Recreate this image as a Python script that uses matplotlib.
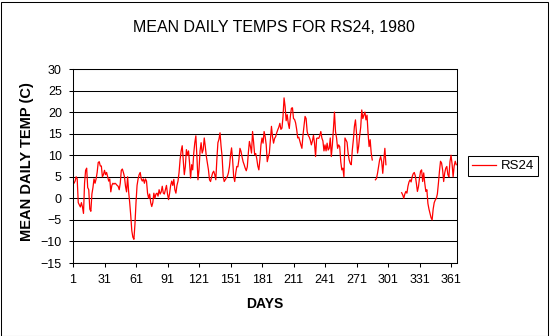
import numpy as np
import matplotlib
matplotlib.use("Agg")
import matplotlib.pyplot as plt
from matplotlib.patches import Rectangle

plt.rcParams['font.family'] = ['Liberation Sans', 'DejaVu Sans']

nan = np.nan

# mean daily temperature (C), day 1 .. 366 (1980 is a leap year)
temps_jan_feb = [4, 3.5, 4, 5, 4.5, -1, -1.5, -2, -1, -2, -3.5, 3.5, 6.5, 7, 2.5, 2, -2.5, -3,
                 1, 2.5, 4.5, 3.5, 4.5, 6, 8.3, 8.5, 7.5, 7.5, 5, 5.5, 6.5, 5.5, 6, 5, 4, 4.5,
                 1.5, 3, 3.5, 3.3, 3.5, 3.3, 3, 2.8, 2, 3.5, 6.5, 6.8, 6, 5, 2.8, 1.5, 5]
temps_feb_apr = [1.5, -1, -4, -7.5, -9, -9.5, -6, -1, 3, 4.5, 5.5, 6, 4.5, 4, 4.5, 3.5, 4.5, 4,
                 1.2, 0, 1, -1, -1.9, -1, 1.2, 0, 1, 1.2, 0.5, 2, 1, 1.5, 2.8, 1.2, 1, 2, 3, 1,
                 -0.3, 1.2, 3, 4, 3, 4.4, 2, 1.2, 3, 4, 6, 9, 11, 12.2]
temps_apr_jun = [9, 5.5, 7.4, 11.3, 10, 11, 8.2, 4.7, 7.8, 6.6, 10.5, 12.9, 14.5, 9.7, 4.3, 6.6,
                 11, 12.9, 10.5, 11.3, 14, 12, 9.7, 8.2, 6.6, 4.3, 3.9, 5, 5.9, 6.3, 5.5, 4.3,
                 9, 12.9, 13.7, 15.2, 12.1, 9.7, 5.1, 3.9, 4.3, 4.7, 5.1, 5.9, 7.4, 10, 11.7, 9,
                 5.1, 3.9, 5.9, 7.4]
temps_jun_jul = [7.3, 9, 11.6, 10.9, 9.6, 8.5, 7.8, 7, 6.4, 7.3, 10.6, 13.2, 12, 10.5, 15.5, 13,
                 10.1, 10.4, 9.2, 7.5, 6.6, 9, 12.4, 14, 12.8, 15.5, 14.3, 12.4, 8.5, 9.6, 10.5,
                 13.6, 16.7, 14.3, 12.8, 13.9, 14.3, 15.2, 15.9, 16.5, 17.4, 16, 16.3, 19, 23.3,
                 21.3, 18, 19.4, 17.4, 16.2, 19, 20.9]
temps_jul_sep = [21, 18.5, 18.3, 17.5, 16, 14, 14.2, 13.3, 12.4, 11.6, 14.6, 16.8, 19, 18.5,
                 15.5, 14.6, 14.2, 13.5, 12.4, 13.3, 14.6, 12.8, 9.7, 13.9, 14, 13.9, 14.5, 15.5,
                 14, 13.3, 11, 12.4, 11, 12.8, 11.2, 11.6, 14, 9.7, 12.4, 16, 20, 15.5, 14, 11.6,
                 12.4, 12, 8.5, 6.6, 7, 5, 14, 13.5]
temps_sep_oct = [13, 10.5, 8.9, 8.1, 7.8, 11.2, 13.6, 16.7, 18.2, 15.1, 10.5, 12, 14.5, 16.5,
                 20.5, 18.5, 19.3, 20, 18.2, 19.3, 15.1, 12, 13.6, 10.5, 8.9, nan, nan,
                 4.3, 4.6, 5.8, 7.4, 8.9, 9.7, 8.5, 5.8, 8.9, 11.6, 7.8]
temps_missing = [nan] * 14
temps_nov_dec = [1.3, 0.8, 0, 1, 1.6, 1.2, 2.8, 3.8, 4.3, 3.8, 5, 5.7, 6, 5.2, 3.5, 1.6, 2.7,
                 4.7, 6.3, 6.6, 3.9, 5.9, 3.5, 1.6, 2, -1.2, -2.5, -3.5, -4.5, -5, -2.5, -1,
                 -0.4, 0, 1, 3.5, 6.3, 8.6, 8.2, 6.6, 3.9, 5.9, 7, 7.4, 5.5, 5, 8.5, 10, 8, 5,
                 7.5, 8.6, 7.8]

temps = (temps_jan_feb + temps_feb_apr + temps_apr_jun + temps_jun_jul
         + temps_jul_sep + temps_sep_oct + temps_missing + temps_nov_dec)
days = np.arange(1, len(temps) + 1)

xticks = list(range(1, 362, 30))
yticks = list(range(-15, 31, 5))

fig = plt.figure(figsize=(5.5, 3.36), dpi=100)
fig.patch.set_facecolor('white')

# plot area in pixels: x 73..457, y 69..263
ax = fig.add_axes([73 / 550, 1 - 263 / 336, 384 / 550, 194 / 336])
ax.plot(days, temps, color='#ff0000', lw=0.9, label='RS24')

ax.set_xlim(1, 366.7)
ax.set_ylim(-15, 30)
ax.set_xticks(xticks)
ax.set_yticks(yticks)
ax.yaxis.grid(True, color='black', lw=0.75)
ax.set_axisbelow(True)
for s in ax.spines.values():
    s.set_color('black')
    s.set_linewidth(0.75)
ax.tick_params(direction='out', length=3, width=0.75, labelsize=9, colors='black')
ax.tick_params(axis='x', pad=5)
ax.tick_params(axis='y', pad=5)

fig.text(274 / 550, 1 - 27 / 336, 'MEAN DAILY TEMPS FOR RS24, 1980',
         ha='center', va='center', fontsize=11.5)
fig.text(265 / 550, 1 - 304 / 336, 'DAYS', ha='center', va='center',
         fontsize=10, fontweight='bold')
fig.text(27 / 550, 1 - 162 / 336, 'MEAN DAILY TEMP (C)', ha='center', va='center',
         rotation=90, fontsize=10.5, fontweight='bold')

leg = fig.legend(loc='center left', bbox_to_anchor=(468 / 550, 1 - 166 / 336),
                 fontsize=9.5, frameon=True, fancybox=False, framealpha=1,
                 edgecolor='black', borderpad=0.3, handlelength=1.8,
                 handletextpad=0.4, borderaxespad=0)
leg.get_frame().set_linewidth(0.75)

# outer chart border
fig.add_artist(Rectangle((0.5 / 550, 0.5 / 336), 547 / 550, 334 / 336,
                         transform=fig.transFigure, fill=False, ec='black', lw=0.75))

fig.savefig('out.png', dpi=100)
